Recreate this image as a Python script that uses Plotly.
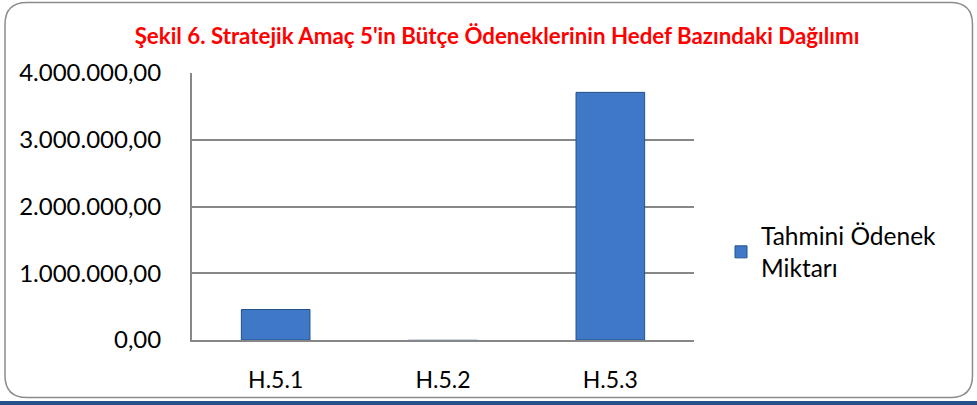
import plotly.graph_objects as go

categories = ["H.5.1", "H.5.2", "H.5.3"]
values = [457000, 5000, 3710000]
tick_vals = [0, 1000000, 2000000, 3000000, 4000000]
tick_text = ["0,00", "1.000.000,00", "2.000.000,00", "3.000.000,00", "4.000.000,00"]
series_name = "Tahmini Ödenek<br>Miktarı"
title_text = "Şekil 6. Stratejik Amaç 5'in Bütçe Ödeneklerinin Hedef Bazındaki Dağılımı"

W, H = 977, 405
L, R, T, B = 192, 694, 73, 340

def px(x):
    return (x - L) / (R - L)

def py(y):
    return (B - y) / (B - T)

fig = go.Figure()
fig.add_trace(go.Bar(
    x=categories, y=values, name=series_name,
    marker=dict(color="#3F78C6", line=dict(color=["#22508E", "#C9D6E8", "#22508E"], width=1)),
    showlegend=True,
))

# rounded border
x0, x1, y0, y1, r = 5, 972.5, 2.5, 397.5, 22
path = (f"M {px(x0+r)},{py(y0)} L {px(x1-r)},{py(y0)} Q {px(x1)},{py(y0)} {px(x1)},{py(y0+r)} "
        f"L {px(x1)},{py(y1-r)} Q {px(x1)},{py(y1)} {px(x1-r)},{py(y1)} "
        f"L {px(x0+r)},{py(y1)} Q {px(x0)},{py(y1)} {px(x0)},{py(y1-r)} "
        f"L {px(x0)},{py(y0+r)} Q {px(x0)},{py(y0)} {px(x0+r)},{py(y0)} Z")
shapes = [
    dict(type="path", xref="paper", yref="paper", path=path,
         line=dict(color="#8C8C8C", width=1.5), layer="below"),
    dict(type="rect", xref="paper", yref="paper", x0=px(0), x1=px(W), y0=py(405), y1=py(401),
         fillcolor="#24518A", line=dict(width=0)),
]

fig.update_layout(
    width=W, height=H,
    margin=dict(l=L, r=W - R, t=T, b=H - B),
    paper_bgcolor="white", plot_bgcolor="white",
    font=dict(family="Lato, Carlito, sans-serif", color="#000000"),
    title=dict(text=f"<b>{title_text}</b>", xref="container", x=497 / W, xanchor="center",
               yref="container", y=1 - 36 / H, yanchor="middle",
               font=dict(size=22.3, color="#FF0000", family="Lato, sans-serif")),
    bargap=0.59,
    xaxis=dict(showline=True, linecolor="#878787", linewidth=2, showgrid=False,
               tickfont=dict(size=23), ticks="", zeroline=False, ticklabelstandoff=18),
    yaxis=dict(range=[0, 4000000], tickvals=tick_vals, ticktext=tick_text,
               showgrid=True, gridcolor="#878787", gridwidth=2,
               showline=True, linecolor="#878787", linewidth=2,
               tickfont=dict(size=24), ticklabelstandoff=24, zeroline=False),
    legend=dict(x=px(721), xanchor="left", y=py(252), yanchor="middle",
                font=dict(size=24.5), bgcolor="rgba(0,0,0,0)", itemwidth=30),
    shapes=shapes,
)

fig.write_html("out.html", config={"displayModeBar": False},
               post_script="document.body.style.margin='0';document.body.style.overflow='hidden';")
